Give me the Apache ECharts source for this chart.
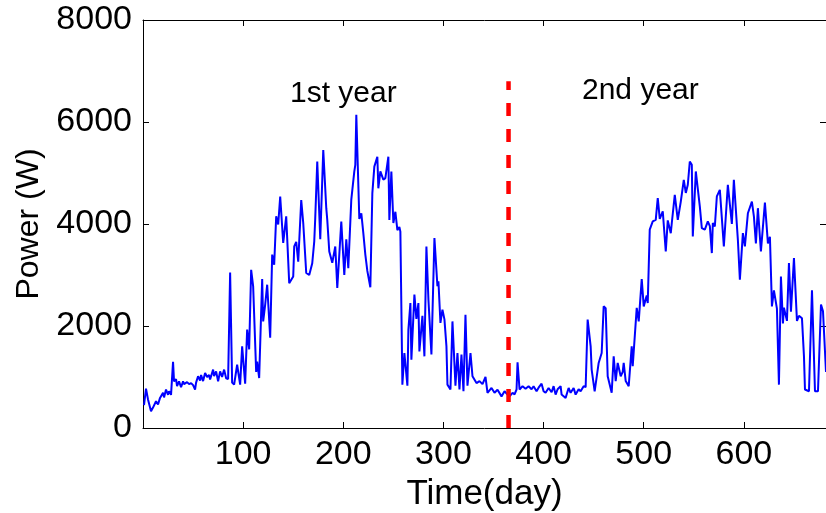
<!DOCTYPE html>
<html>
<head>
<meta charset="utf-8">
<script src="https://cdn.jsdelivr.net/npm/echarts@6/dist/echarts.min.js"></script>
<style>
  html, body { margin: 0; padding: 0; background: #fff; }
  #chart { width: 826px; height: 513px; }
</style>
</head>
<body>
<div id="chart"></div>
<script>
// daily power readings, two years
const days = [
  1, 3, 5, 8, 10, 13, 15, 17, 20, 21, 23, 25, 26, 28, 30, 31, 33, 34, 36, 38,
  40, 41, 44, 46, 48, 50, 52, 53, 55, 57, 58, 60, 62, 64, 66, 67, 70, 71, 73, 75,
  77, 79, 81, 83, 85, 87, 89, 91, 94, 97, 99, 102, 104, 106, 108, 110, 113, 114, 116, 119,
  120, 122, 124, 127, 129, 131, 133, 135, 137, 140, 143, 146, 150, 151, 153, 155, 158, 160, 163, 166,
  169, 171, 172, 174, 177, 180, 183, 184, 186, 189, 192, 194, 198, 201, 203, 205, 208, 211, 212, 213,
  216, 218, 220, 222, 224, 227, 229, 231, 234, 235, 237, 240, 242, 245, 246, 248, 250, 252, 254, 256,
  257, 259, 261, 264, 265, 267, 268, 271, 273, 275, 276, 279, 281, 283, 285, 288, 291, 294, 295, 297,
  299, 301, 303, 304, 307, 309, 312, 314, 316, 318, 320, 322, 324, 327, 329, 333, 336, 339, 342, 344,
  348, 351, 354, 358, 361, 364, 366, 369, 371, 373, 374, 376, 379, 382, 385, 388, 390, 393, 395, 398,
  400, 402, 405, 408, 410, 412, 414, 417, 418, 422, 425, 427, 430, 432, 435, 437, 440, 442, 444, 447,
  448, 451, 455, 458, 460, 462, 464, 468, 470, 472, 474, 477, 479, 480, 482, 485, 488, 489, 493, 495,
  498, 500, 503, 504, 506, 509, 512, 514, 516, 519, 522, 524, 527, 528, 531, 534, 537, 540, 542, 544,
  546, 548, 549, 552, 556, 558, 561, 564, 566, 568, 569, 571, 573, 576, 580, 584, 588, 590, 594, 596,
  599, 601, 604, 608, 610, 612, 614, 617, 621, 624, 626, 628, 630, 633, 635, 637, 639, 640, 643, 645,
  647, 650, 653, 655, 658, 660, 661, 665, 668, 671, 674, 677, 679, 682
]
const power = [
  450, 770, 560, 330, 400, 525, 460, 590, 690, 600, 755, 650, 720, 650, 1300, 915, 960, 820, 915, 800,
  915, 860, 900, 860, 880, 840, 755, 890, 1015, 930, 1040, 920, 1080, 1000, 1040, 950, 1145, 1020, 1110, 915,
  1110, 1000, 1145, 975, 960, 3050, 890, 850, 1240, 850, 1600, 870, 1930, 1540, 3100, 2775, 1100, 1300, 980, 2920,
  2090, 2420, 2810, 1770, 3400, 3200, 4150, 3990, 4540, 3630, 4150, 2840, 2970, 3560, 3650, 3260, 4470, 4020, 3040, 3000,
  3230, 3660, 4120, 5225, 3700, 5450, 4310, 4080, 3460, 3240, 3560, 2745, 4050, 3000, 3700, 3135, 4480, 5030, 5160, 6140,
  4100, 4210, 3820, 3400, 3080, 2760, 4600, 5125, 5320, 4700, 5030, 4870, 4900, 5320, 4080, 5030, 4020, 4240, 3880, 3940,
  3850, 850, 1470, 830, 1930, 2450, 1340, 2615, 2140, 2450, 1500, 2200, 1405, 3560, 2520, 1440, 3725, 2780, 2875, 2060,
  2320, 2130, 1600, 850, 755, 2090, 830, 1470, 755, 1440, 720, 2220, 830, 1470, 1015, 880, 920, 860, 1000, 690,
  785, 690, 750, 620, 720, 655, 620, 690, 660, 755, 1290, 755, 820, 770, 820, 760, 820, 720, 790, 870,
  720, 690, 785, 700, 820, 655, 760, 820, 655, 590, 785, 690, 785, 655, 760, 720, 820, 800, 2125, 1600,
  1145, 720, 1275, 1470, 2385, 2350, 1015, 690, 1405, 920, 1275, 1015, 1100, 1275, 920, 820, 1600, 1210, 2355, 2090,
  2920, 2385, 2600, 2450, 3890, 4050, 4080, 4510, 4100, 4250, 3460, 4070, 3820, 4015, 4570, 4080, 4440, 4865, 4610, 4770,
  5225, 5160, 3755, 5030, 4345, 3920, 3890, 4050, 3960, 3430, 4020, 3950, 4540, 4670, 3560, 4770, 4000, 4865, 3690, 2910,
  3820, 3560, 4210, 4440, 4150, 3620, 4310, 3460, 4420, 3620, 3750, 2385, 2700, 2340, 850, 2970, 2050, 2360, 2100, 3235,
  2280, 3330, 2100, 2200, 2150, 1405, 755, 720, 2700, 720, 720, 2420, 2290, 1100
]

// year boundary marker
const boundaryDay = 365
const boundaryTop = 6800

const yTicks = [0, 2000, 4000, 6000, 8000]

const FONT = "'Liberation Sans', Arial, sans-serif"

const chart = echarts.init(document.getElementById('chart'))

const tick = () => ({ show: true, inside: true, length: 6, lineStyle: { color: '#000', width: 1 } })
const line = () => ({ show: true, onZero: false, lineStyle: { color: '#000', width: 1 } })

const option = {
  animation: false,
  backgroundColor: '#fff',
  grid: { left: 143, right: 0, top: 20, bottom: 85, outerBoundsMode: 'none', containLabel: false },
  xAxis: [
    {
      type: 'value',
      min: 0,
      max: 682,
      interval: 100,
      name: 'Time(day)',
      nameLocation: 'middle',
      nameGap: 36,
      nameTextStyle: { color: '#000', fontSize: 35, fontFamily: FONT },
      axisLine: line(),
      axisTick: tick(),
      axisLabel: {
        color: '#000', fontSize: 34, fontFamily: FONT, margin: 10,
        showMinLabel: false, showMaxLabel: false,
        formatter: v => String(v)
      },
      splitLine: { show: false }
    },
    {
      type: 'value',
      position: 'top',
      min: 0,
      max: 682,
      interval: 100,
      axisLine: line(),
      axisTick: tick(),
      axisLabel: { show: false },
      splitLine: { show: false }
    }
  ],
  yAxis: [
    {
      type: 'value',
      min: yTicks[0],
      max: yTicks[yTicks.length - 1],
      interval: 2000,
      name: 'Power (W)',
      nameLocation: 'middle',
      nameGap: 94,
      nameTextStyle: { color: '#000', fontSize: 32, fontFamily: FONT },
      axisLine: line(),
      axisTick: tick(),
      axisLabel: { color: '#000', fontSize: 34, fontFamily: FONT, margin: 11, formatter: v => String(v) },
      splitLine: { show: false }
    },
    {
      type: 'value',
      position: 'right',
      min: yTicks[0],
      max: yTicks[yTicks.length - 1],
      interval: 2000,
      axisLine: { show: false, onZero: false },
      axisTick: tick(),
      axisLabel: { show: false },
      splitLine: { show: false }
    }
  ],
  graphic: [
    {
      type: 'text', left: 290, top: 79,
      style: { text: '1st year', fill: '#000', font: '30px ' + FONT }
    },
    {
      type: 'text', left: 582, top: 76,
      style: { text: '2nd year', fill: '#000', font: '30px ' + FONT }
    }
  ],
  series: [
    {
      name: 'Power',
      type: 'line',
      showSymbol: false,
      symbol: 'none',
      lineStyle: { color: '#0000ff', width: 2 },
      data: days.map((d, i) => [d, power[i]])
    },
    {
      name: 'boundary',
      type: 'line',
      showSymbol: false,
      symbol: 'none',
      lineStyle: { color: '#ff0000', width: 4.5, type: [13, 13] },
      data: [[boundaryDay, 0], [boundaryDay, boundaryTop]]
    }
  ]
}

chart.setOption(option)
</script>
</body>
</html>
